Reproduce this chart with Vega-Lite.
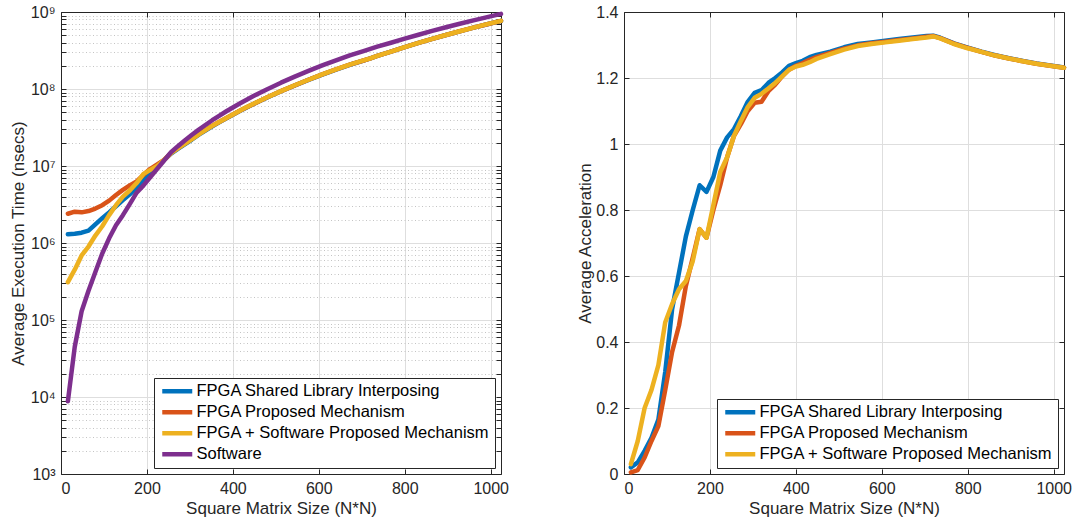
{
  "$schema": "https://vega.github.io/schema/vega-lite/v6.json",
  "padding": {"left": 9, "top": 4, "right": 5, "bottom": 5},
  "background": "white",
  "config": {
    "font": "Liberation Sans",
    "view": {"stroke": null},
    "axis": {
      "labelFont": "Liberation Sans", "labelFontSize": 16, "labelColor": "#262626",
      "titleFont": "Liberation Sans", "titleFontSize": 17, "titleFontWeight": "normal", "titleColor": "#262626",
      "domainColor": "#262626", "tickColor": "#262626", "gridColor": "#dedede",
      "tickSize": -5, "labelPadding": 11, "labelOverlap": false
    },
    "legend": {
      "orient": "bottom-right", "offset": 6, "symbolType": "M-3,0H3", "symbolStrokeWidth": 5,
      "symbolSize": 100, "symbolOffset": 10, "labelFont": "Liberation Sans", "labelFontSize": 16.5, "labelColor": "#000000",
      "strokeColor": "#262626", "fillColor": "white", "padding": 5, "rowPadding": 4,
      "labelLimit": 0, "labelOffset": 11, "cornerRadius": 0
    },
    "line": {"strokeWidth": 4.5, "strokeCap": "round", "strokeJoin": "round"}
  },
  "datasets": {
    "exec": [
      {"N":16,"FPGA Shared Library Interposing":1.3e6,"FPGA Proposed Mechanism":2.4e6,"FPGA + Software Proposed Mechanism":3.1e5,"Software":8.8e3},
      {"N":32,"FPGA Shared Library Interposing":1.32e6,"FPGA Proposed Mechanism":2.55e6,"FPGA + Software Proposed Mechanism":4.5e5,"Software":4.5e4},
      {"N":48,"FPGA Shared Library Interposing":1.36e6,"FPGA Proposed Mechanism":2.5e6,"FPGA + Software Proposed Mechanism":6.9e5,"Software":1.3e5},
      {"N":64,"FPGA Shared Library Interposing":1.45e6,"FPGA Proposed Mechanism":2.6e6,"FPGA + Software Proposed Mechanism":9.0e5,"Software":2.4e5},
      {"N":80,"FPGA Shared Library Interposing":1.75e6,"FPGA Proposed Mechanism":2.8e6,"FPGA + Software Proposed Mechanism":1.25e6,"Software":4.2e5},
      {"N":96,"FPGA Shared Library Interposing":2.1e6,"FPGA Proposed Mechanism":3.1e6,"FPGA + Software Proposed Mechanism":1.65e6,"Software":7.3e5},
      {"N":112,"FPGA Shared Library Interposing":2.5e6,"FPGA Proposed Mechanism":3.55e6,"FPGA + Software Proposed Mechanism":2.3e6,"Software":1.15e6},
      {"N":128,"FPGA Shared Library Interposing":3.0e6,"FPGA Proposed Mechanism":4.2e6,"FPGA + Software Proposed Mechanism":3.1e6,"Software":1.7e6},
      {"N":144,"FPGA Shared Library Interposing":3.6e6,"FPGA Proposed Mechanism":4.9e6,"FPGA + Software Proposed Mechanism":4.0e6,"Software":2.3e6},
      {"N":160,"FPGA Shared Library Interposing":4.3e6,"FPGA Proposed Mechanism":5.6e6,"FPGA + Software Proposed Mechanism":4.8e6,"Software":3.2e6},
      {"N":176,"FPGA Shared Library Interposing":5.2e6,"FPGA Proposed Mechanism":6.3e6,"FPGA + Software Proposed Mechanism":6.0e6,"Software":4.5e6},
      {"N":192,"FPGA Shared Library Interposing":6.6e6,"FPGA Proposed Mechanism":7.7e6,"FPGA + Software Proposed Mechanism":7.9e6,"Software":5.6e6},
      {"N":208,"FPGA Shared Library Interposing":7.9e6,"FPGA Proposed Mechanism":9.2e6,"FPGA + Software Proposed Mechanism":8.9e6,"Software":7.2e6},
      {"N":224,"FPGA Shared Library Interposing":9.6e6,"FPGA Proposed Mechanism":1.05e7,"FPGA + Software Proposed Mechanism":1.0e7,"Software":9.2e6},
      {"N":240,"FPGA Shared Library Interposing":1.2e7,"FPGA Proposed Mechanism":1.2e7,"FPGA + Software Proposed Mechanism":1.2e7,"Software":1.18e7},
      {"N":256,"FPGA Shared Library Interposing":1.445e7,"FPGA Proposed Mechanism":1.473e7,"FPGA + Software Proposed Mechanism":1.473e7,"Software":1.51e7},
      {"N":272,"FPGA Shared Library Interposing":1.668e7,"FPGA Proposed Mechanism":1.708e7,"FPGA + Software Proposed Mechanism":1.692e7,"Software":1.81e7},
      {"N":288,"FPGA Shared Library Interposing":1.906e7,"FPGA Proposed Mechanism":1.955e7,"FPGA + Software Proposed Mechanism":1.933e7,"Software":2.15e7},
      {"N":304,"FPGA Shared Library Interposing":2.19e7,"FPGA Proposed Mechanism":2.249e7,"FPGA + Software Proposed Mechanism":2.219e7,"Software":2.53e7},
      {"N":320,"FPGA Shared Library Interposing":2.537e7,"FPGA Proposed Mechanism":2.615e7,"FPGA + Software Proposed Mechanism":2.561e7,"Software":2.95e7},
      {"N":336,"FPGA Shared Library Interposing":2.878e7,"FPGA Proposed Mechanism":2.94e7,"FPGA + Software Proposed Mechanism":2.92e7,"Software":3.41e7},
      {"N":352,"FPGA Shared Library Interposing":3.275e7,"FPGA Proposed Mechanism":3.331e7,"FPGA + Software Proposed Mechanism":3.316e7,"Software":3.93e7},
      {"N":368,"FPGA Shared Library Interposing":3.689e7,"FPGA Proposed Mechanism":3.726e7,"FPGA + Software Proposed Mechanism":3.726e7,"Software":4.49e7},
      {"N":384,"FPGA Shared Library Interposing":4.123e7,"FPGA Proposed Mechanism":4.163e7,"FPGA + Software Proposed Mechanism":4.163e7,"Software":5.10e7},
      {"N":400,"FPGA Shared Library Interposing":4.627e7,"FPGA Proposed Mechanism":4.656e7,"FPGA + Software Proposed Mechanism":4.664e7,"Software":5.76e7},
      {"N":416,"FPGA Shared Library Interposing":5.176e7,"FPGA Proposed Mechanism":5.205e7,"FPGA + Software Proposed Mechanism":5.226e7,"Software":6.48e7},
      {"N":432,"FPGA Shared Library Interposing":5.748e7,"FPGA Proposed Mechanism":5.785e7,"FPGA + Software Proposed Mechanism":5.817e7,"Software":7.26e7},
      {"N":448,"FPGA Shared Library Interposing":6.37e7,"FPGA Proposed Mechanism":6.405e7,"FPGA + Software Proposed Mechanism":6.431e7,"Software":8.09e7},
      {"N":480,"FPGA Shared Library Interposing":7.77e7,"FPGA Proposed Mechanism":7.80e7,"FPGA + Software Proposed Mechanism":7.82e7,"Software":9.95e7},
      {"N":512,"FPGA Shared Library Interposing":9.34e7,"FPGA Proposed Mechanism":9.37e7,"FPGA + Software Proposed Mechanism":9.39e7,"Software":1.208e8},
      {"N":544,"FPGA Shared Library Interposing":1.112e8,"FPGA Proposed Mechanism":1.115e8,"FPGA + Software Proposed Mechanism":1.117e8,"Software":1.449e8},
      {"N":576,"FPGA Shared Library Interposing":1.315e8,"FPGA Proposed Mechanism":1.318e8,"FPGA + Software Proposed Mechanism":1.32e8,"Software":1.72e8},
      {"N":608,"FPGA Shared Library Interposing":1.541e8,"FPGA Proposed Mechanism":1.544e8,"FPGA + Software Proposed Mechanism":1.547e8,"Software":2.023e8},
      {"N":640,"FPGA Shared Library Interposing":1.79e8,"FPGA Proposed Mechanism":1.794e8,"FPGA + Software Proposed Mechanism":1.797e8,"Software":2.359e8},
      {"N":672,"FPGA Shared Library Interposing":2.064e8,"FPGA Proposed Mechanism":2.069e8,"FPGA + Software Proposed Mechanism":2.072e8,"Software":2.731e8},
      {"N":704,"FPGA Shared Library Interposing":2.34e8,"FPGA Proposed Mechanism":2.343e8,"FPGA + Software Proposed Mechanism":2.347e8,"Software":3.105e8},
      {"N":720,"FPGA Shared Library Interposing":2.5e8,"FPGA Proposed Mechanism":2.502e8,"FPGA + Software Proposed Mechanism":2.504e8,"Software":3.32e8},
      {"N":736,"FPGA Shared Library Interposing":2.685e8,"FPGA Proposed Mechanism":2.687e8,"FPGA + Software Proposed Mechanism":2.689e8,"Software":3.55e8},
      {"N":768,"FPGA Shared Library Interposing":3.057e8,"FPGA Proposed Mechanism":3.06e8,"FPGA + Software Proposed Mechanism":3.062e8,"Software":3.99e8},
      {"N":800,"FPGA Shared Library Interposing":3.491e8,"FPGA Proposed Mechanism":3.493e8,"FPGA + Software Proposed Mechanism":3.496e8,"Software":4.51e8},
      {"N":832,"FPGA Shared Library Interposing":3.961e8,"FPGA Proposed Mechanism":3.963e8,"FPGA + Software Proposed Mechanism":3.966e8,"Software":5.07e8},
      {"N":864,"FPGA Shared Library Interposing":4.476e8,"FPGA Proposed Mechanism":4.478e8,"FPGA + Software Proposed Mechanism":4.48e8,"Software":5.68e8},
      {"N":896,"FPGA Shared Library Interposing":5.024e8,"FPGA Proposed Mechanism":5.027e8,"FPGA + Software Proposed Mechanism":5.03e8,"Software":6.33e8},
      {"N":928,"FPGA Shared Library Interposing":5.615e8,"FPGA Proposed Mechanism":5.618e8,"FPGA + Software Proposed Mechanism":5.62e8,"Software":7.03e8},
      {"N":960,"FPGA Shared Library Interposing":6.262e8,"FPGA Proposed Mechanism":6.265e8,"FPGA + Software Proposed Mechanism":6.27e8,"Software":7.79e8},
      {"N":992,"FPGA Shared Library Interposing":6.939e8,"FPGA Proposed Mechanism":6.942e8,"FPGA + Software Proposed Mechanism":6.945e8,"Software":8.59e8},
      {"N":1024,"FPGA Shared Library Interposing":7.67e8,"FPGA Proposed Mechanism":7.673e8,"FPGA + Software Proposed Mechanism":7.676e8,"Software":9.45e8}
    ],
    "acc": [
      {"N":16,"FPGA Shared Library Interposing":0.02,"FPGA Proposed Mechanism":0.005,"FPGA + Software Proposed Mechanism":0.03},
      {"N":32,"FPGA Shared Library Interposing":0.035,"FPGA Proposed Mechanism":0.012,"FPGA + Software Proposed Mechanism":0.10},
      {"N":48,"FPGA Shared Library Interposing":0.07,"FPGA Proposed Mechanism":0.05,"FPGA + Software Proposed Mechanism":0.20},
      {"N":64,"FPGA Shared Library Interposing":0.11,"FPGA Proposed Mechanism":0.10,"FPGA + Software Proposed Mechanism":0.255},
      {"N":80,"FPGA Shared Library Interposing":0.165,"FPGA Proposed Mechanism":0.145,"FPGA + Software Proposed Mechanism":0.33},
      {"N":96,"FPGA Shared Library Interposing":0.31,"FPGA Proposed Mechanism":0.255,"FPGA + Software Proposed Mechanism":0.46},
      {"N":112,"FPGA Shared Library Interposing":0.50,"FPGA Proposed Mechanism":0.37,"FPGA + Software Proposed Mechanism":0.515},
      {"N":128,"FPGA Shared Library Interposing":0.61,"FPGA Proposed Mechanism":0.45,"FPGA + Software Proposed Mechanism":0.56},
      {"N":144,"FPGA Shared Library Interposing":0.72,"FPGA Proposed Mechanism":0.57,"FPGA + Software Proposed Mechanism":0.585},
      {"N":160,"FPGA Shared Library Interposing":0.80,"FPGA Proposed Mechanism":0.655,"FPGA + Software Proposed Mechanism":0.645},
      {"N":176,"FPGA Shared Library Interposing":0.875,"FPGA Proposed Mechanism":0.742,"FPGA + Software Proposed Mechanism":0.742},
      {"N":192,"FPGA Shared Library Interposing":0.855,"FPGA Proposed Mechanism":0.716,"FPGA + Software Proposed Mechanism":0.716},
      {"N":208,"FPGA Shared Library Interposing":0.90,"FPGA Proposed Mechanism":0.80,"FPGA + Software Proposed Mechanism":0.815},
      {"N":224,"FPGA Shared Library Interposing":0.98,"FPGA Proposed Mechanism":0.875,"FPGA + Software Proposed Mechanism":0.915},
      {"N":240,"FPGA Shared Library Interposing":1.02,"FPGA Proposed Mechanism":0.96,"FPGA + Software Proposed Mechanism":0.96},
      {"N":256,"FPGA Shared Library Interposing":1.045,"FPGA Proposed Mechanism":1.025,"FPGA + Software Proposed Mechanism":1.025},
      {"N":272,"FPGA Shared Library Interposing":1.085,"FPGA Proposed Mechanism":1.06,"FPGA + Software Proposed Mechanism":1.07},
      {"N":288,"FPGA Shared Library Interposing":1.128,"FPGA Proposed Mechanism":1.10,"FPGA + Software Proposed Mechanism":1.112},
      {"N":304,"FPGA Shared Library Interposing":1.155,"FPGA Proposed Mechanism":1.125,"FPGA + Software Proposed Mechanism":1.14},
      {"N":320,"FPGA Shared Library Interposing":1.163,"FPGA Proposed Mechanism":1.128,"FPGA + Software Proposed Mechanism":1.152},
      {"N":336,"FPGA Shared Library Interposing":1.185,"FPGA Proposed Mechanism":1.16,"FPGA + Software Proposed Mechanism":1.168},
      {"N":352,"FPGA Shared Library Interposing":1.20,"FPGA Proposed Mechanism":1.18,"FPGA + Software Proposed Mechanism":1.185},
      {"N":368,"FPGA Shared Library Interposing":1.217,"FPGA Proposed Mechanism":1.205,"FPGA + Software Proposed Mechanism":1.205},
      {"N":384,"FPGA Shared Library Interposing":1.237,"FPGA Proposed Mechanism":1.225,"FPGA + Software Proposed Mechanism":1.225},
      {"N":400,"FPGA Shared Library Interposing":1.245,"FPGA Proposed Mechanism":1.237,"FPGA + Software Proposed Mechanism":1.235},
      {"N":416,"FPGA Shared Library Interposing":1.252,"FPGA Proposed Mechanism":1.245,"FPGA + Software Proposed Mechanism":1.24},
      {"N":432,"FPGA Shared Library Interposing":1.263,"FPGA Proposed Mechanism":1.255,"FPGA + Software Proposed Mechanism":1.248},
      {"N":448,"FPGA Shared Library Interposing":1.27,"FPGA Proposed Mechanism":1.263,"FPGA + Software Proposed Mechanism":1.258},
      {"N":480,"FPGA Shared Library Interposing":1.28,"FPGA Proposed Mechanism":1.276,"FPGA + Software Proposed Mechanism":1.272},
      {"N":512,"FPGA Shared Library Interposing":1.293,"FPGA Proposed Mechanism":1.289,"FPGA + Software Proposed Mechanism":1.286},
      {"N":544,"FPGA Shared Library Interposing":1.303,"FPGA Proposed Mechanism":1.299,"FPGA + Software Proposed Mechanism":1.297},
      {"N":576,"FPGA Shared Library Interposing":1.308,"FPGA Proposed Mechanism":1.305,"FPGA + Software Proposed Mechanism":1.303},
      {"N":608,"FPGA Shared Library Interposing":1.313,"FPGA Proposed Mechanism":1.31,"FPGA + Software Proposed Mechanism":1.308},
      {"N":640,"FPGA Shared Library Interposing":1.318,"FPGA Proposed Mechanism":1.315,"FPGA + Software Proposed Mechanism":1.313},
      {"N":672,"FPGA Shared Library Interposing":1.323,"FPGA Proposed Mechanism":1.32,"FPGA + Software Proposed Mechanism":1.318},
      {"N":704,"FPGA Shared Library Interposing":1.327,"FPGA Proposed Mechanism":1.325,"FPGA + Software Proposed Mechanism":1.323},
      {"N":720,"FPGA Shared Library Interposing":1.328,"FPGA Proposed Mechanism":1.327,"FPGA + Software Proposed Mechanism":1.326},
      {"N":736,"FPGA Shared Library Interposing":1.322,"FPGA Proposed Mechanism":1.321,"FPGA + Software Proposed Mechanism":1.32},
      {"N":768,"FPGA Shared Library Interposing":1.305,"FPGA Proposed Mechanism":1.304,"FPGA + Software Proposed Mechanism":1.303},
      {"N":800,"FPGA Shared Library Interposing":1.292,"FPGA Proposed Mechanism":1.291,"FPGA + Software Proposed Mechanism":1.29},
      {"N":832,"FPGA Shared Library Interposing":1.28,"FPGA Proposed Mechanism":1.279,"FPGA + Software Proposed Mechanism":1.279},
      {"N":864,"FPGA Shared Library Interposing":1.269,"FPGA Proposed Mechanism":1.268,"FPGA + Software Proposed Mechanism":1.268},
      {"N":896,"FPGA Shared Library Interposing":1.26,"FPGA Proposed Mechanism":1.259,"FPGA + Software Proposed Mechanism":1.259},
      {"N":928,"FPGA Shared Library Interposing":1.252,"FPGA Proposed Mechanism":1.251,"FPGA + Software Proposed Mechanism":1.251},
      {"N":960,"FPGA Shared Library Interposing":1.244,"FPGA Proposed Mechanism":1.243,"FPGA + Software Proposed Mechanism":1.243},
      {"N":992,"FPGA Shared Library Interposing":1.238,"FPGA Proposed Mechanism":1.237,"FPGA + Software Proposed Mechanism":1.237},
      {"N":1024,"FPGA Shared Library Interposing":1.232,"FPGA Proposed Mechanism":1.231,"FPGA + Software Proposed Mechanism":1.231}
    ]
  },
  "spacing": 67,
  "resolve": {"scale": {"color": "independent"}},
  "hconcat": [
    {
      "width": 440,
      "height": 462,
      "data": {"name": "exec"},
      "transform": [
        {"fold": ["FPGA Shared Library Interposing", "FPGA Proposed Mechanism", "FPGA + Software Proposed Mechanism", "Software"], "as": ["series", "value"]}
      ],
      "layer": [
        {
          "transform": [{"filter": "datum.series !== 'Software'"}],
          "mark": {"type": "line"},
          "encoding": {
            "x": {
              "field": "N", "type": "quantitative",
              "scale": {"domain": [0, 1024], "nice": false, "zero": false},
              "axis": {"orient": "bottom", "values": [0, 200, 400, 600, 800, 1000], "format": "d", "grid": true, "title": "Square Matrix Size (N*N)", "titlePadding": 4}
            },
            "y": {
              "field": "value", "type": "quantitative",
              "scale": {"type": "log", "domain": [1000, 1000000000], "nice": false},
              "axis": {
                "orient": "left",
                "values": [1e3,2e3,3e3,4e3,5e3,6e3,7e3,8e3,9e3,1e4,2e4,3e4,4e4,5e4,6e4,7e4,8e4,9e4,1e5,2e5,3e5,4e5,5e5,6e5,7e5,8e5,9e5,1e6,2e6,3e6,4e6,5e6,6e6,7e6,8e6,9e6,1e7,2e7,3e7,4e7,5e7,6e7,7e7,8e7,9e7,1e8,2e8,3e8,4e8,5e8,6e8,7e8,8e8,9e8,1e9],
                "labelExpr": "abs(log(datum.value)/LN10 - round(log(datum.value)/LN10)) < 0.001 ? '10' + ['⁰','¹','²','³','⁴','⁵','⁶','⁷','⁸','⁹'][round(log(datum.value)/LN10)] : ''",
                "grid": true,
                "gridDash": {"condition": {"test": "abs(log(datum.value)/LN10 - round(log(datum.value)/LN10)) < 0.001", "value": []}, "value": [1, 2.5]},
                "gridColor": {"condition": {"test": "abs(log(datum.value)/LN10 - round(log(datum.value)/LN10)) < 0.001", "value": "#dedede"}, "value": "#c4c4c4"},
                "title": "Average Execution Time (nsecs)", "titlePadding": 3
              }
            },
            "color": {
              "field": "series", "type": "nominal",
              "scale": {"domain": ["FPGA Shared Library Interposing", "FPGA Proposed Mechanism", "FPGA + Software Proposed Mechanism", "Software"], "range": ["#0072BD", "#D95319", "#EDB120", "#7E2F8E"]},
              "legend": {"title": null}
            }
          }
        },
        {
          "transform": [{"filter": "datum.series === 'Software'"}],
          "mark": {"type": "line"},
          "encoding": {
            "x": {
              "field": "N", "type": "quantitative",
              "axis": {"orient": "top", "values": [0, 200, 400, 600, 800, 1000], "grid": false, "labels": false, "title": null}
            },
            "y": {
              "field": "value", "type": "quantitative",
              "axis": {
                "orient": "right", "grid": false, "labels": false, "title": null,
                "values": [1e3,2e3,3e3,4e3,5e3,6e3,7e3,8e3,9e3,1e4,2e4,3e4,4e4,5e4,6e4,7e4,8e4,9e4,1e5,2e5,3e5,4e5,5e5,6e5,7e5,8e5,9e5,1e6,2e6,3e6,4e6,5e6,6e6,7e6,8e6,9e6,1e7,2e7,3e7,4e7,5e7,6e7,7e7,8e7,9e7,1e8,2e8,3e8,4e8,5e8,6e8,7e8,8e8,9e8,1e9]
              }
            },
            "color": {"field": "series", "type": "nominal", "legend": {"title": null}}
          }
        }
      ],
      "resolve": {"axis": {"x": "independent", "y": "independent"}}
    },
    {
      "width": 440,
      "height": 462,
      "data": {"name": "acc"},
      "transform": [
        {"fold": ["FPGA Shared Library Interposing", "FPGA Proposed Mechanism", "FPGA + Software Proposed Mechanism"], "as": ["series", "value"]}
      ],
      "layer": [
        {
          "transform": [{"filter": "datum.series !== 'FPGA + Software Proposed Mechanism'"}],
          "mark": {"type": "line"},
          "encoding": {
            "x": {
              "field": "N", "type": "quantitative",
              "scale": {"domain": [0, 1024], "nice": false, "zero": false},
              "axis": {"orient": "bottom", "values": [0, 200, 400, 600, 800, 1000], "format": "d", "grid": true, "title": "Square Matrix Size (N*N)", "titlePadding": 4}
            },
            "y": {
              "field": "value", "type": "quantitative",
              "scale": {"domain": [0, 1.4], "nice": false},
              "axis": {"orient": "left", "values": [0, 0.2, 0.4, 0.6, 0.8, 1, 1.2, 1.4], "format": "~g", "grid": true, "title": "Average Acceleration", "titlePadding": 1}
            },
            "color": {
              "field": "series", "type": "nominal",
              "scale": {"domain": ["FPGA Shared Library Interposing", "FPGA Proposed Mechanism", "FPGA + Software Proposed Mechanism"], "range": ["#0072BD", "#D95319", "#EDB120"]},
              "legend": {"title": null}
            }
          }
        },
        {
          "transform": [{"filter": "datum.series === 'FPGA + Software Proposed Mechanism'"}],
          "mark": {"type": "line"},
          "encoding": {
            "x": {
              "field": "N", "type": "quantitative",
              "axis": {"orient": "top", "values": [0, 200, 400, 600, 800, 1000], "grid": false, "labels": false, "title": null}
            },
            "y": {
              "field": "value", "type": "quantitative",
              "axis": {"orient": "right", "values": [0, 0.2, 0.4, 0.6, 0.8, 1, 1.2, 1.4], "grid": false, "labels": false, "title": null}
            },
            "color": {"field": "series", "type": "nominal", "legend": {"title": null}}
          }
        }
      ],
      "resolve": {"axis": {"x": "independent", "y": "independent"}}
    }
  ]
}
